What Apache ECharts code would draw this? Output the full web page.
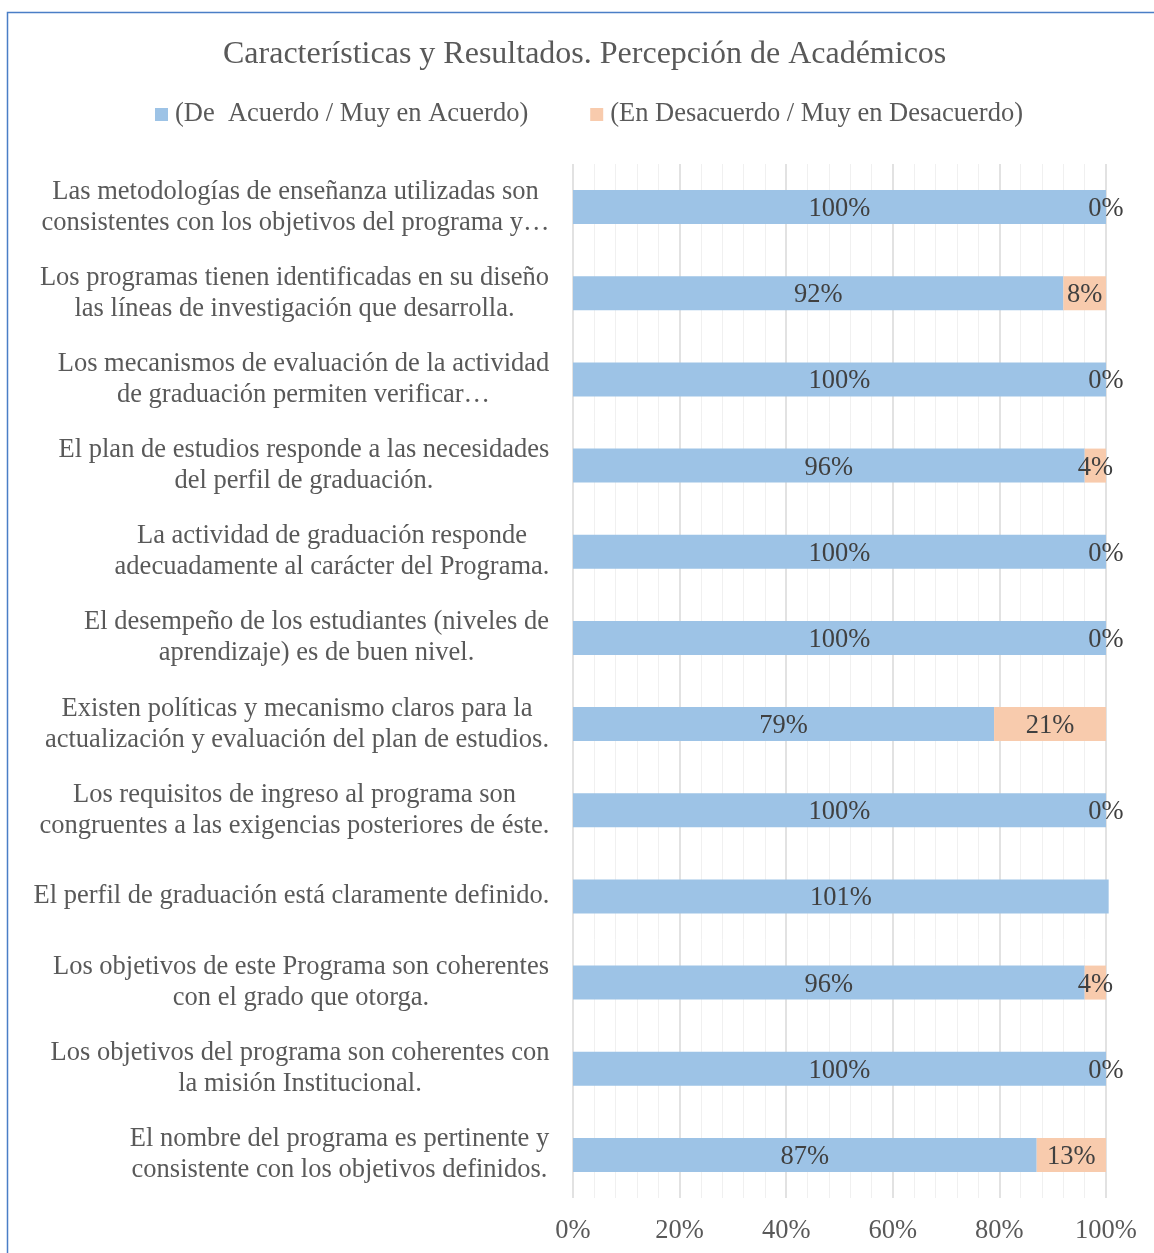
<!DOCTYPE html>
<html>
<head>
<meta charset="utf-8">
<script src="https://cdn.jsdelivr.net/npm/echarts@6/dist/echarts.min.js"></script>
<style>
html,body{margin:0;padding:0;background:#fff;}
#chart{width:1154px;height:1253px;}
</style>
</head>
<body>
<div id="chart"></div>
<script>
const categories = [
  "Las metodologías de enseñanza utilizadas son\nconsistentes con los objetivos del programa y…",
  "Los programas tienen identificadas en su diseño\nlas líneas de investigación que desarrolla.",
  "Los mecanismos de evaluación de la actividad\nde graduación permiten verificar…",
  "El plan de estudios responde a las necesidades\ndel perfil de graduación.",
  "La actividad de graduación responde\nadecuadamente al carácter del Programa.",
  "El desempeño de los estudiantes (niveles de\naprendizaje) es de buen nivel.",
  "Existen políticas y mecanismo claros para la\nactualización y evaluación del plan de estudios.",
  "Los requisitos de ingreso al programa son\ncongruentes a las exigencias posteriores de éste.",
  "El perfil de graduación está claramente definido.",
  "Los objetivos de este Programa son coherentes\ncon el grado que otorga.",
  "Los objetivos del programa son coherentes con\nla misión Institucional.",
  "El nombre del programa es pertinente y\nconsistente con los objetivos definidos."
];
const seriesNames = ["(De  Acuerdo / Muy en Acuerdo)", "(En Desacuerdo / Muy en Desacuerdo)"];
const acuerdo = [100, 92, 100, 96, 100, 100, 79, 100, 100.5, 96, 100, 87];
const desacuerdo = [0, 8, 0, 4, 0, 0, 21, 0, null, 4, 0, 13];
const xTicks = [0, 20, 40, 60, 80, 100];

const FONT = '"Liberation Serif", "Times New Roman", serif';
const FS = 26.5;
const GRAY = '#595959';
const DARK = '#404040';

// measure widths to center lines within each label block
const cv = document.createElement('canvas').getContext('2d');
cv.font = FS + 'px ' + FONT;
const rich = {};
categories.forEach((c, i) => {
  const w = Math.max(...c.split('\n').map(l => cv.measureText(l).width));
  rich['w' + i] = { width: Math.ceil(w) + 1, align: 'center', fontFamily: FONT, fontSize: FS, color: GRAY, lineHeight: 31 };
});

const pct = p => Math.round(p.value) + '%';

const chart = echarts.init(document.getElementById('chart'), null, { renderer: 'canvas' });
chart.setOption({
  animation: false,
  backgroundColor: '#fff',
  textStyle: { fontFamily: FONT },
  graphic: [{
    type: 'rect', shape: { x: 7.5, y: 12.5, width: 1200, height: 1300 },
    style: { fill: null, stroke: '#4A7EC6', lineWidth: 1.5 }, silent: true, z: 100
  }],
  title: {
    text: 'Características y Resultados. Percepción de Académicos',
    left: 218, top: 34,
    textStyle: { fontFamily: FONT, fontSize: 32, fontWeight: 'normal', color: GRAY }
  },
  legend: {
    top: 96, left: 150,
    icon: 'rect', itemWidth: 13, itemHeight: 13, itemGap: 62,
    textStyle: { fontFamily: FONT, fontSize: FS, color: GRAY, padding: [0, 0, 0, 2] },
    data: seriesNames
  },
  grid: { left: 573, right: 48, top: 164, height: 1034, containLabel: false },
  xAxis: {
    type: 'value', min: 0, max: 100, interval: 20,
    axisLine: { show: false }, axisTick: { show: false },
    axisLabel: { formatter: v => xTicks.includes(v) ? v + '%' : '', fontFamily: FONT, fontSize: FS, color: GRAY, margin: 20 },
    splitLine: { show: true, lineStyle: { color: '#d9d9d9', width: 1.5 } },
    minorTick: { show: false, splitNumber: 5 },
    minorSplitLine: { show: true, lineStyle: { color: '#f0f0f0', width: 1 } }
  },
  yAxis: {
    type: 'category', inverse: true, data: categories,
    axisLine: { show: false }, axisTick: { show: false },
    axisLabel: {
      margin: 23, align: 'right', interval: 0,
      formatter: (v, i) => v.split('\n').map(l => '{w' + i + '|' + l + '}').join('\n'),
      rich: rich
    }
  },
  series: [
    {
      name: seriesNames[0], type: 'bar', stack: 't', data: acuerdo, barWidth: 34, clip: false,
      itemStyle: { color: '#9DC3E6' },
      label: { show: true, position: 'inside', offset: [0, 2], formatter: pct, fontFamily: FONT, fontSize: FS, color: DARK }
    },
    {
      name: seriesNames[1], type: 'bar', stack: 't', data: desacuerdo, barWidth: 34, clip: false,
      itemStyle: { color: '#F8CBAD' },
      label: { show: true, position: 'inside', offset: [0, 2], formatter: pct, fontFamily: FONT, fontSize: FS, color: DARK }
    }
  ]
});
</script>
</body>
</html>
